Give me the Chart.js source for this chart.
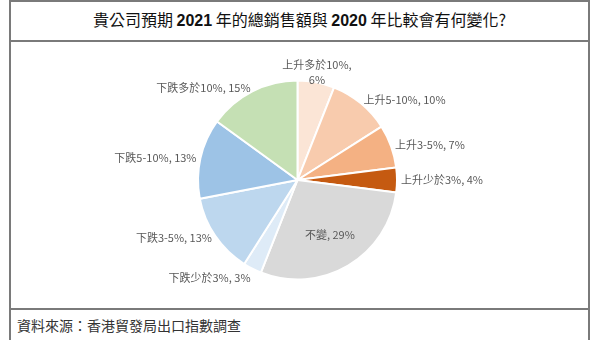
<!DOCTYPE html>
<html>
<head>
<meta charset="utf-8">
<script src="https://cdn.jsdelivr.net/npm/chart.js@4"></script>
<style>
    html, body { margin: 0; padding: 0; background: #fff; }
    body { width: 600px; height: 340px; position: relative; overflow: hidden; font-family: "Noto Sans CJK TC", "Noto Sans", sans-serif; }
    .frame { position: absolute; left: 9px; top: 0; width: 581px; height: 340px; border-left: 2px solid #7a7a7a; border-right: 2px solid #7a7a7a; border-top: 2px solid #7a7a7a; box-sizing: border-box; }
    .title { position: absolute; left: 0; right: 0; top: 0; height: 38px; border-bottom: 2px solid #7a7a7a; text-align: center; line-height: 34px; font-size: 16px; color: #111; }
    .title b { font-family: "Liberation Sans", Arial, sans-serif; font-weight: bold; }
    .source { position: absolute; left: 0; right: 0; top: 306px; bottom: 0; border-top: 2px solid #7a7a7a; padding-left: 6px; line-height: 30px; font-size: 14px; color: #333; }
    #pieChart { position: absolute; left: 0; top: 0; }
</style>
</head>
<body>
<div class="frame">
    <div class="title">貴公司預期 <b>2021</b> 年的總銷售額與 <b>2020</b> 年比較會有何變化?</div>
    <div class="source">資料來源：香港貿發局出口指數調查</div>
</div>
<canvas id="pieChart" width="600" height="340"></canvas>
<script>
const categories = ['上升多於10%', '上升5-10%', '上升3-5%', '上升少於3%', '不變', '下跌少於3%', '下跌3-5%', '下跌5-10%', '下跌多於10%'];
const shares = [6, 10, 7, 4, 29, 3, 13, 13, 15];
const sliceColors = ['#FBE5D6', '#F8CBAD', '#F4B183', '#C55A11', '#D9D9D9', '#DEEBF7', '#BDD7EE', '#9DC3E6', '#C5E0B4'];

// draws "name, value%" next to each slice, big slices get it inside
const sliceLabels = {
    id: 'sliceLabels',
    afterDatasetsDraw(chart) {
        const ctx = chart.ctx;
        const meta = chart.getDatasetMeta(0);
        ctx.save();
        ctx.font = '11px "Noto Sans CJK TC", sans-serif';
        ctx.fillStyle = '#595959';
        meta.data.forEach((arc, i) => {
            const text = categories[i] + ', ' + shares[i] + '%';
            const mid = (arc.startAngle + arc.endAngle) / 2;
            const cos = Math.cos(mid);
            const sin = Math.sin(mid);
            if (shares[i] >= 20) {
                const r = arc.outerRadius * 0.64;
                ctx.textAlign = 'center';
                ctx.textBaseline = 'middle';
                ctx.fillText(text, arc.x + cos * r, arc.y + sin * r);
                return;
            }
            const r = arc.outerRadius + 4;
            const ax = arc.x + cos * r;
            const ay = arc.y + sin * r;
            if (sin < 0 && Math.abs(cos) < 0.3) {
                // top of the pie: wrap after the comma, stack upwards
                const lines = [categories[i] + ',', shares[i] + '%'];
                ctx.textAlign = 'center';
                ctx.textBaseline = 'middle';
                lines.forEach((line, k) => {
                    ctx.fillText(line, ax, ay + 1 - (lines.length - 1 - k) * 15);
                });
            } else if (sin > 0 && Math.abs(cos) < 0.5) {
                ctx.textAlign = cos < 0 ? 'right' : 'left';
                ctx.textBaseline = 'top';
                ctx.fillText(text, ax, ay);
            } else {
                ctx.textAlign = cos < 0 ? 'right' : 'left';
                ctx.textBaseline = 'middle';
                ctx.fillText(text, ax, ay);
            }
        });
        ctx.restore();
    }
};

const ctx = document.getElementById('pieChart').getContext('2d');
const pie = new Chart(ctx, {
    type: 'pie',
    data: {
        labels: categories,
        datasets: [{
            data: shares,
            backgroundColor: sliceColors,
            borderColor: '#ffffff',
            borderWidth: 2
        }]
    },
    options: {
        responsive: false,
        animation: false,
        radius: 99.5,
        layout: {
            padding: { left: 198, right: 203, top: 80.5, bottom: 60.5 }
        },
        plugins: {
            legend: { display: false },
            tooltip: { enabled: false }
        }
    },
    plugins: [sliceLabels]
});
</script>
</body>
</html>
